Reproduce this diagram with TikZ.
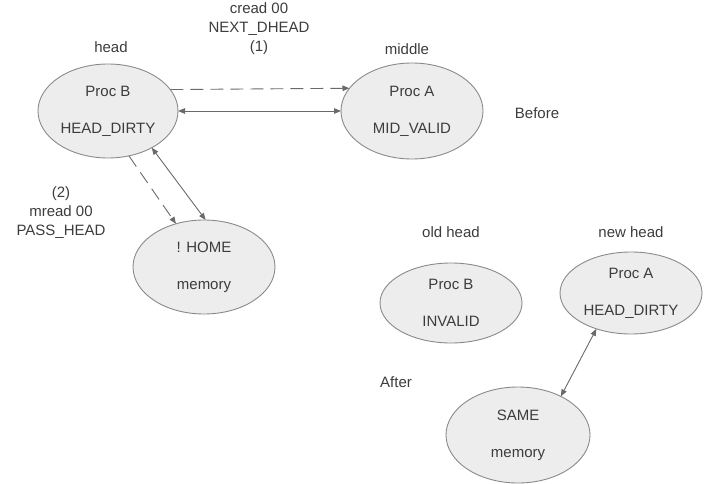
\documentclass[tikz,border=0pt]{standalone}
\usepackage{fontspec}
\setmainfont{Liberation Sans}
\usetikzlibrary{shapes.geometric,arrows.meta}
\definecolor{ellfill}{HTML}{EDEDED}
\definecolor{ellline}{HTML}{8A8A8A}
\definecolor{txt}{HTML}{3C3C3C}
\definecolor{conn}{HTML}{6A6A6A}
\begin{document}
\begin{tikzpicture}[x=1pt,y=-1pt,
  state/.style={ellipse,draw=ellline,fill=ellfill,line width=0.9pt,inner sep=0pt,outer sep=0pt,
    align=center,text=txt,font=\fontsize{15}{37}\selectfont},
  lbl/.style={text=txt,font=\fontsize{15}{19}\selectfont,align=center,inner sep=0pt},
  tip/.style={-{Triangle[length=7pt,width=5.5pt]}},
  both/.style={{Triangle[length=7pt,width=5.5pt]}-{Triangle[length=7pt,width=5.5pt]}},
  conline/.style={draw=conn,line width=0.9pt},
  dashline/.style={conline,dash pattern=on 13pt off 7pt}]
\useasboundingbox (0,0) rectangle (714,484);
% Before
\node[state,minimum width=140pt,minimum height=94pt] (pb) at (108,111) {Proc B\\HEAD\_DIRTY};
\node[state,minimum width=142pt,minimum height=96pt] (pa) at (412,111) {Proc A\\MID\_VALID};
\node[state,minimum width=142pt,minimum height=94pt] (home) at (204,267) {! HOME\\memory};
\node[lbl] (lhead) at (111,47) {head};
\node[lbl] (lmid) at (407,49) {middle};
\node[lbl] (lcread) at (259,29) {cread 00\\NEXT\_DHEAD\\(1)};
\node[lbl] (lmread) at (61,213) {(2)\\mread 00\\PASS\_HEAD};
\node[lbl] (lbefore) at (537,113) {Before};
\draw[dashline,tip] (pb.19) -- (pa.160);
\draw[conline,both] (pb.east) -- (pa.west);
\draw[dashline,tip] (pb.-65) -- (home.123);
\draw[conline,both] (pb.-40) -- (home.88);
% After
\node[state,minimum width=142pt,minimum height=80pt] (ob) at (451,303) {Proc B\\INVALID};
\node[state,minimum width=142pt,minimum height=82pt] (na) at (631,293) {Proc A\\HEAD\_DIRTY};
\node[state,minimum width=144pt,minimum height=96pt] (same) at (518,435) {SAME\\memory};
\node[lbl] (lold) at (451,232) {old head};
\node[lbl] (lnew) at (631,232) {new head};
\node[lbl] (lafter) at (396,382) {After};
\draw[conline,both] (na.-134) -- (same.42);
\end{tikzpicture}
\end{document}
